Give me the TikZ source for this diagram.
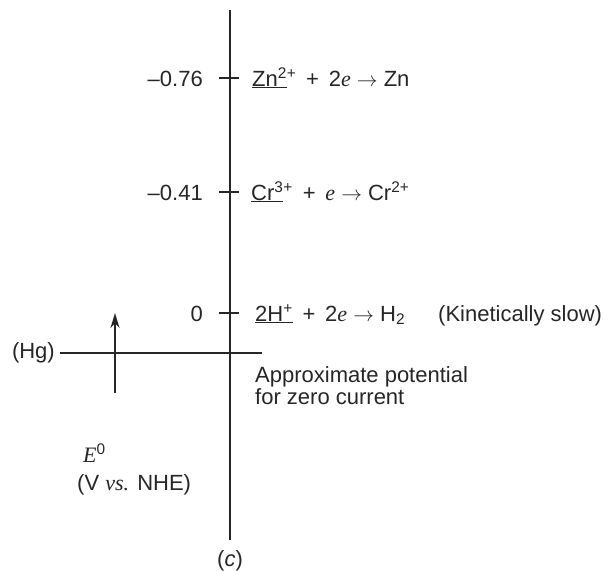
\documentclass[tikz,border=0pt]{standalone}
\usepackage{fontspec}
\usetikzlibrary{arrows.meta}
\setmainfont{Liberation Sans}
\newfontfamily\serifit{Liberation Serif}
\newcommand{\ee}{{\serifit\itshape e}}
\newcommand{\ra}{\ $\rightarrow$\ }
\newcommand{\pl}{\ \,+\ \,}
\begin{document}
\begin{tikzpicture}[x=1pt,y=-1pt,
  lbl/.style={font=\fontsize{22}{23}\selectfont, inner sep=0pt, text=black!85},
  line/.style={line width=2pt, black!85}]
\useasboundingbox (0,0) rectangle (614,571);
% axis
\coordinate (top) at (230,10);
\coordinate (bot) at (230,540);
\draw[line] (top) -- (bot);
% ticks
\foreach \y/\n in {78/t1,192/t2,313/t3}{
  \coordinate (\n l) at (219,\y);
  \coordinate (\n r) at (239,\y);
  \draw[line width=1.4pt, black!85] (\n l) -- (\n r);
}
% left values
\node[lbl, anchor=base east] (v1) at (203,86) {--0.76};
\node[lbl, anchor=base east] (v2) at (203,200) {--0.41};
\node[lbl, anchor=base east] (v3) at (203,321) {0};
% reactions
\node[lbl, anchor=base west] (r1) at (252,86) {\underline{Zn\textsuperscript{2}}\textsuperscript{+}\pl 2\ee\ra Zn};
\node[lbl, anchor=base west] (r2) at (251,200) {\underline{Cr\textsuperscript{3}}\textsuperscript{+}\pl\ee\ra Cr\textsuperscript{2+}};
\node[lbl, anchor=base west] (r3) at (255,321) {\underline{2H\textsuperscript{+}}\pl 2\ee\ra H\textsubscript{2}};
\node[lbl, anchor=base west] (ks) at (438,321) {(Kinetically slow)};
% Hg line
\node[lbl, anchor=east] (hg) at (55,353) {(Hg)};
\coordinate (hgend) at (262,353);
\draw[line] (hg.east) ++(5,0) -- (hgend);
% arrow
\coordinate (a0) at (115,393);
\coordinate (a1) at (115,313);
\draw[line, -{Stealth[length=15pt,width=9pt]}] (a0) -- (a1);
% approx text
\node[lbl, anchor=base west] (ap1) at (255,382) {Approximate potential};
\node[lbl, anchor=base west] (ap2) at (255,404) {for zero current};
% E0
\node[lbl, anchor=base west] (e0) at (83,462) {{\serifit\itshape E}\textsuperscript{0}};
\node[lbl, anchor=base west] (vn) at (77,490) {(V {\serifit\itshape vs.} NHE)};
\node[lbl] (c) at (230,561) {(\textit{c})};
\end{tikzpicture}
\end{document}
